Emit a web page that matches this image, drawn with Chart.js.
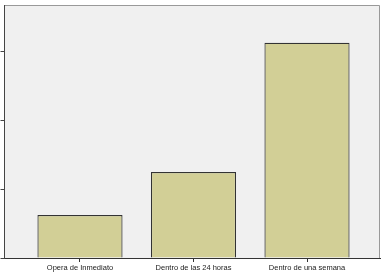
<!DOCTYPE html>
<html>
<head>
<meta charset="utf-8">
<script src="https://cdn.jsdelivr.net/npm/chart.js@4"></script>
<style>
  body { margin: 0; background: #fff; }
  #wrap { width: 385px; height: 274px; }
</style>
</head>
<body>
<div id="wrap"><canvas id="bars" width="385" height="274"></canvas></div>
<script>
const categories = ['Opera de Inmediato', 'Dentro de las 24 horas', 'Dentro de una semana']
const percents = [12.5, 25, 62.5]
const yTicks = [0, 20, 40, 60]

// light grey plot background plus the thin frame on top and right
const plotFrame = {
  id: 'plotFrame',
  beforeDraw(chart) {
    const {ctx, chartArea: a} = chart
    ctx.save()
    ctx.fillStyle = '#f0f0f0'
    ctx.fillRect(a.left, a.top, a.right - a.left, a.bottom - a.top)
    ctx.strokeStyle = '#999'
    ctx.lineWidth = 1
    ctx.beginPath()
    ctx.moveTo(a.left, a.top + 0.5)
    ctx.lineTo(a.right - 0.5, a.top + 0.5)
    ctx.lineTo(a.right - 0.5, a.bottom)
    ctx.stroke()
    ctx.restore()
  }
}

const points = categories.map((c, i) => ({x: i, y: percents[i]}))

new Chart(document.querySelector('#bars'), {
  type: 'bar',
  data: {
    datasets: [{
      data: points,
      backgroundColor: '#d2cf96',
      borderColor: '#333',
      borderWidth: 1.2,
      categoryPercentage: 1,
      barPercentage: 0.75
    }]
  },
  options: {
    responsive: false,
    animation: false,
    layout: {padding: {top: 5, right: 5, left: 0, bottom: 0}},
    plugins: {legend: {display: false}, tooltip: {enabled: false}},
    scales: {
      x: {
        type: 'linear',
        offset: false,
        min: -0.665,
        max: 2.643,
        afterBuildTicks: s => { s.ticks = categories.map((c, i) => ({value: i})) },
        afterFit: s => { s.height = 16 },
        border: {color: '#333', width: 1},
        grid: {drawOnChartArea: false, offset: false, tickLength: 4, color: '#333'},
        ticks: {
          autoSkip: false,
          maxRotation: 0,
          padding: 1,
          color: '#1a1a1a',
          font: {family: "'Liberation Sans', Arial", size: 7.5},
          callback: v => categories[v]
        }
      },
      y: {
        min: 0,
        max: 73.5,
        afterBuildTicks: s => { s.ticks = yTicks.map(v => ({value: v})) },
        afterFit: s => { s.width = 4.5 },
        border: {color: '#444', width: 1},
        grid: {drawOnChartArea: false, tickLength: 4, color: '#444'},
        ticks: {display: false}
      }
    }
  },
  plugins: [plotFrame]
})
</script>
</body>
</html>
